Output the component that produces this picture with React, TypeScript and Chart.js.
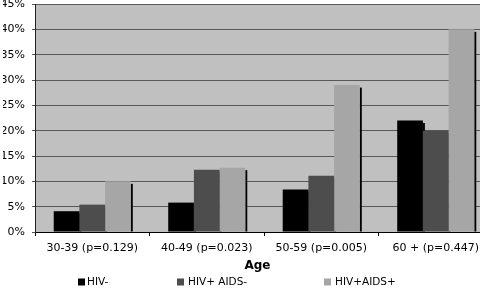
import React, { useEffect, useRef } from "react";
import { Chart, registerables } from "chart.js";

Chart.register(...registerables);

const categories = ["30-39 (p=0.129)", "40-49 (p=0.023)", "50-59 (p=0.005)", "60 + (p=0.447)"];
const seriesNames = ["HIV-", "HIV+ AIDS-", "HIV+AIDS+"];
const hivNeg = [4.1, 5.8, 8.4, 22.0];
const hivPosAidsNeg = [5.4, 12.3, 11.1, 20.0];
const hivPosAidsPos = [10.0, 12.7, 29.0, 40.0];
const seriesColors = ["#000000", "#4d4d4d", "#a6a6a6"];
const yMax = 45;
const yStep = 5;
const xTitle = "Age";

const FONT = "'DejaVu Sans'";
const VIEW_W = 480;

const plotBackground = {
  id: "plotBackground",
  beforeDraw(chart: any) {
    const { ctx, chartArea } = chart;
    ctx.save();
    ctx.fillStyle = "#c0c0c0";
    ctx.fillRect(chartArea.left, chartArea.top, chartArea.right - chartArea.left, chartArea.bottom - chartArea.top);
    ctx.restore();
  },
};

const barShadow = {
  id: "barShadow",
  beforeDatasetsDraw(chart: any) {
    const { ctx } = chart;
    ctx.save();
    ctx.fillStyle = "#000000";
    chart.data.datasets.forEach((_: any, i: number) => {
      const meta = chart.getDatasetMeta(i);
      meta.data.forEach((el: any) => {
        const p = el.getProps(["x", "y", "base", "width"], true);
        const right = p.x + p.width / 2;
        ctx.fillRect(right, p.y + 2.5, 2, p.base - p.y - 2.5);
      });
    });
    ctx.restore();
  },
};

// x-axis title, centred on the visible part of the plot area
const axisTitle = {
  id: "axisTitle",
  afterDraw(chart: any) {
    const { ctx, chartArea } = chart;
    const xs = chart.scales.x;
    ctx.save();
    ctx.font = `bold 12px ${FONT}`;
    ctx.fillStyle = "#000000";
    ctx.textAlign = "center";
    ctx.textBaseline = "middle";
    ctx.fillText(xTitle, (chartArea.left + Math.min(chartArea.right, VIEW_W)) / 2, xs.bottom - 7);
    ctx.restore();
  },
};

const legendStarts = [78, 177, 324];

const customLegend = {
  id: "customLegend",
  afterDraw(chart: any) {
    const { ctx } = chart;
    const yc = chart.height - 6;
    ctx.save();
    ctx.font = `10.5px ${FONT}`;
    ctx.textBaseline = "middle";
    ctx.textAlign = "left";
    chart.data.datasets.forEach((ds: any, i: number) => {
      const x = legendStarts[i];
      ctx.fillStyle = ds.backgroundColor;
      ctx.fillRect(x, yc - 3.5, 7, 7);
      ctx.fillStyle = "#000000";
      ctx.fillText(ds.label, x + (i === 0 ? 9 : 11), yc);
    });
    ctx.restore();
  },
};

export default function App() {
  const ref = useRef<HTMLCanvasElement | null>(null);

  useEffect(() => {
    if (!ref.current) return;
    const series = [hivNeg, hivPosAidsNeg, hivPosAidsPos];
    const chart = new Chart(ref.current, {
      type: "bar",
      data: {
        labels: categories,
        datasets: series.map((d, i) => ({
          label: seriesNames[i],
          data: d,
          backgroundColor: seriesColors[i],
          borderWidth: 0,
          categoryPercentage: 0.673,
          barPercentage: 1,
        })),
      },
      options: {
        animation: false,
        responsive: true,
        maintainAspectRatio: false,
        layout: { padding: { left: 3, top: 4, right: 0, bottom: 15 } },
        plugins: {
          legend: { display: false },
          tooltip: { enabled: false },
        },
        scales: {
          x: {
            offset: true,
            grid: {
              display: true,
              drawOnChartArea: false,
              drawTicks: true,
              tickLength: 4,
              color: "#000000",
              offset: true,
            },
            border: { display: true, color: "#000000", width: 1 },
            ticks: {
              font: { family: FONT, size: 11 },
              color: "#000000",
              padding: 6,
              maxRotation: 0,
              autoSkip: false,
            },
            title: { display: false, text: xTitle },
            afterFit(scale: any) {
              scale.height = 41;
              scale.paddingLeft = 0;
              scale.paddingRight = 0;
            },
          },
          y: {
            min: 0,
            max: yMax,
            grid: {
              color: "#585858",
              lineWidth: 1,
              drawTicks: true,
              tickLength: 3,
            },
            border: { display: true, color: "#202020", width: 1 },
            ticks: {
              stepSize: yStep,
              font: { family: FONT, size: 11 },
              color: "#000000",
              padding: 7,
              callback: (v: any) => `${v}%`,
            },
            afterFit(scale: any) {
              scale.width = 32;
              scale.paddingTop = 0;
              scale.paddingBottom = 0;
            },
          },
        },
      },
      plugins: [plotBackground, barShadow, axisTitle, customLegend],
    });
    return () => chart.destroy();
  }, []);

  return (
    <div style={{ position: "absolute", left: 0, top: 0, width: VIEW_W, height: 288, overflow: "hidden", background: "#ffffff" }}>
      <div style={{ position: "relative", width: 493, height: 288 }}>
        <canvas ref={ref} />
      </div>
    </div>
  );
}
